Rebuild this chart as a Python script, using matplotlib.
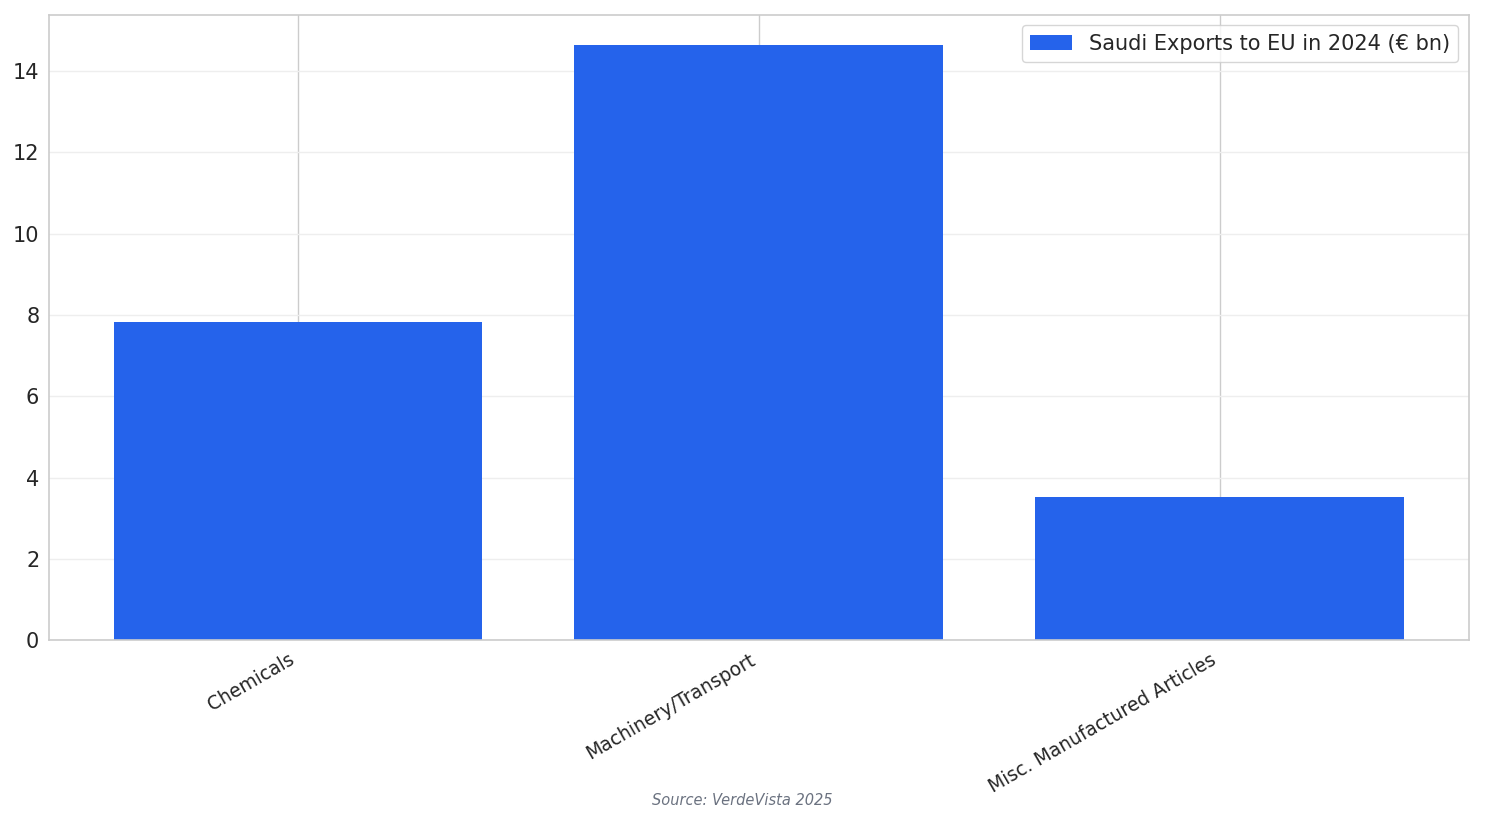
import matplotlib
matplotlib.use("Agg")
import matplotlib.pyplot as plt
import seaborn as sns

categories = ["Chemicals", "Machinery/Transport", "Misc. Manufactured Articles"]
values = [7.82, 14.65, 3.53]
series_label = "Saudi Exports to EU in 2024 (€ bn)"
source_text = "Source: VerdeVista 2025"

sns.set_style("whitegrid")
plt.rcParams['font.family'] = ['DejaVu Sans']

fig, ax = plt.subplots(figsize=(14.85, 8.24), dpi=100)
fig.subplots_adjust(left=0.033, right=0.989, top=0.982, bottom=0.223)

ax.bar(categories, values, width=0.8, color="#2563EB", linewidth=0,
       label=series_label, zorder=2)

# vertical grid darker than horizontal
ax.xaxis.grid(True, color="#cccccc", linewidth=1.0, zorder=0)
ax.yaxis.grid(True, color="#eeeeee", linewidth=1.0, zorder=0)
ax.set_axisbelow(True)

for s in ax.spines.values():
    s.set_color("#cccccc")
    s.set_linewidth(1.2)

ax.tick_params(axis="y", labelsize=15, colors="#262626")
ax.tick_params(axis="x", labelsize=13.5, colors="#262626")
plt.setp(ax.get_xticklabels(), rotation=30, ha="right")

ax.legend(loc="upper right", fontsize=15, frameon=True)

fig.text(0.5, 0.028, source_text, ha="center", va="center", fontsize=10.5,
         style="italic", color="#6b7280")

fig.savefig("out.png", dpi=100)
